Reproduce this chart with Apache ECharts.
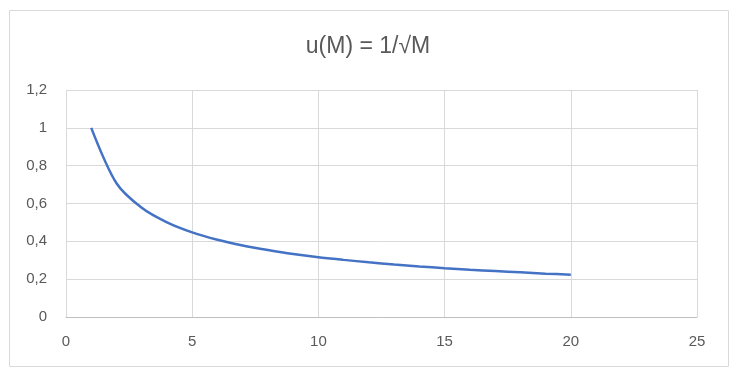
<!DOCTYPE html>
<html>
<head>
<meta charset="utf-8">
<script src="https://cdn.jsdelivr.net/npm/echarts@6/dist/echarts.min.js"></script>
<style>
  html, body { margin: 0; padding: 0; background: #fff; }
  #chart { width: 736px; height: 377px; }
</style>
</head>
<body>
<div id="chart"></div>
<script>
// M values and u(M)
const mValues = [1, 2, 3, 4, 5, 6, 7, 8, 9, 10, 11, 12, 13, 14, 15, 16, 17, 18, 19, 20];
const uValues = [1, 0.707, 0.577, 0.5, 0.447, 0.408, 0.378, 0.354, 0.333, 0.316,
  0.302, 0.289, 0.277, 0.267, 0.258, 0.25, 0.243, 0.236, 0.229, 0.224];

const textColor = '#595959';
const fontFamily = '"Liberation Sans", Arial, sans-serif';

let myChart = echarts.init(document.getElementById('chart'));
let option = {
  animation: false,
  title: {
    text: 'u(M) = 1/√M',
    left: 'center',
    top: 30,
    textStyle: {
      color: textColor,
      fontSize: 23,
      fontWeight: 'normal',
      fontFamily,
    },
  },
  graphic: [{
    type: 'rect',
    shape: { x: 9.5, y: 10.5, width: 719, height: 356 },
    style: { fill: 'none', stroke: '#d9d9d9', lineWidth: 1 },
    silent: true,
  }],
  grid: {
    left: 66,
    right: 39,
    top: 90,
    bottom: 60,
  },
  xAxis: {
    type: 'value',
    min: 0,
    max: 25,
    interval: 5,
    axisLine: { show: true, lineStyle: { color: '#bfbfbf', width: 1 } },
    axisTick: { show: false },
    splitLine: { show: true, lineStyle: { color: '#d9d9d9', width: 1 } },
    axisLabel: {
      color: textColor,
      fontSize: 15,
      fontFamily,
      margin: 17,
    },
  },
  yAxis: {
    type: 'value',
    min: 0,
    max: 1.2,
    interval: 0.2,
    axisLine: { show: false },
    axisTick: { show: false },
    splitLine: { show: true, lineStyle: { color: '#d9d9d9', width: 1 } },
    axisLabel: {
      color: textColor,
      fontSize: 15,
      fontFamily,
      margin: 19,
      formatter: (v) => String(Math.round(v * 10) / 10).replace('.', ','),
    },
  },
  series: [{
    type: 'line',
    data: mValues.map((m, i) => [m, uValues[i]]),
    smooth: 0.3,
    showSymbol: false,
    lineStyle: { color: '#4472c4', width: 2.5 },
  }],
};
myChart.setOption(option);
</script>
</body>
</html>
